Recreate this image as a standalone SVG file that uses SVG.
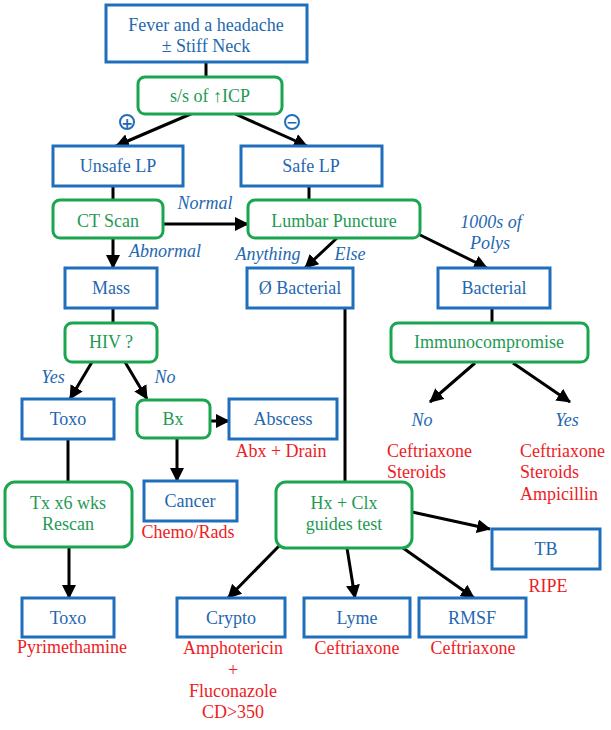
<svg xmlns="http://www.w3.org/2000/svg" width="611" height="730" viewBox="0 0 611 730" font-family="Liberation Serif, Times New Roman, serif">
<style>
.b{fill:#fff;stroke:#1f6fbd;stroke-width:3}
.g{fill:#fff;stroke:#1aa64f;stroke-width:3}
text{font-size:18px;text-anchor:middle}
.tb{fill:#1f68b0}
.tg{fill:#1f9a55}
.tr{fill:#ee1c25}
.ti{fill:#1f68b0;font-style:italic}
.c line{stroke:#000;stroke-width:3}
.a{marker-end:url(#ah)}
</style>
<defs>
<marker id="ah" markerUnits="userSpaceOnUse" markerWidth="14" markerHeight="14" refX="13" refY="7" orient="auto">
<path d="M0,0 L14,7 L0,14 z" fill="#000"/>
</marker>
</defs>
<g class="c" id="connectors">
<line x1="206" y1="62" x2="206" y2="77"/>
<line class="a" x1="193" y1="113" x2="116" y2="146"/>
<line class="a" x1="233" y1="113" x2="307" y2="146"/>
<line x1="113" y1="186" x2="113" y2="200"/>
<line x1="309" y1="186" x2="309" y2="200"/>
<line class="a" x1="163" y1="224" x2="248" y2="224"/>
<line class="a" x1="113" y1="238" x2="113" y2="268"/>
<line class="a" x1="337" y1="238" x2="305" y2="268"/>
<line class="a" x1="412" y1="231" x2="487" y2="268"/>
<line x1="113" y1="308" x2="113" y2="323"/>
<line x1="345" y1="308" x2="345" y2="482"/>
<line x1="492" y1="308" x2="492" y2="323"/>
<line class="a" x1="92" y1="362" x2="70" y2="399"/>
<line class="a" x1="125" y1="362" x2="147" y2="399"/>
<line class="a" x1="475" y1="363" x2="430" y2="402"/>
<line class="a" x1="513" y1="363" x2="570" y2="402"/>
<line class="a" x1="210" y1="421" x2="229" y2="421"/>
<line class="a" x1="177" y1="438" x2="177" y2="481"/>
<line x1="68" y1="439" x2="68" y2="482"/>
<line class="a" x1="69" y1="547" x2="69" y2="598"/>
<line class="a" x1="279" y1="546" x2="228" y2="598"/>
<line class="a" x1="347" y1="548" x2="355" y2="598"/>
<line class="a" x1="403" y1="548" x2="474" y2="598"/>
<line class="a" x1="412" y1="512" x2="490" y2="529"/>
</g>
<g id="labels">
<circle cx="127" cy="122" r="7" fill="#fff" stroke="#1f6fbd" stroke-width="2"/>
<text x="127" y="127.5" class="tb" font-family="DejaVu Sans, sans-serif" style="font-size:14px;font-weight:bold">+</text>
<circle cx="292" cy="122" r="7" fill="#fff" stroke="#1f6fbd" stroke-width="2"/>
<text x="292" y="127" class="tb" font-family="DejaVu Sans, sans-serif" style="font-size:14px;font-weight:bold">−</text>
<text x="205" y="209" class="ti">Normal</text>
<text x="165" y="257" class="ti">Abnormal</text>
<text x="268" y="260" class="ti">Anything</text>
<text x="350" y="260" class="ti">Else</text>
<text x="491" y="228" class="ti">1000s of</text>
<text x="490" y="249" class="ti">Polys</text>
<text x="53" y="383" class="ti">Yes</text>
<text x="165" y="383" class="ti">No</text>
<text x="422" y="426" class="ti">No</text>
<text x="567" y="426" class="ti">Yes</text>
</g>
<g id="n-fever"><rect class="b" x="106" y="5" width="201" height="57"/><text x="206" y="31" class="tb">Fever and a headache</text><text x="206" y="52" class="tb">± Stiff Neck</text></g>
<g id="n-icp"><rect class="g" x="138" y="77" width="144" height="37" rx="7"/><text x="210" y="102" class="tg">s/s of ↑ICP</text></g>
<g id="n-unsafe"><rect class="b" x="53" y="146" width="130" height="40"/><text x="118" y="172" class="tb">Unsafe LP</text></g>
<g id="n-safe"><rect class="b" x="241" y="146" width="141" height="40"/><text x="311" y="172" class="tb">Safe LP</text></g>
<g id="n-ct"><rect class="g" x="53" y="200" width="110" height="38" rx="7"/><text x="108" y="227" class="tg">CT Scan</text></g>
<g id="n-lp"><rect class="g" x="248" y="200" width="172" height="38" rx="7"/><text x="334" y="227" class="tg">Lumbar Puncture</text></g>
<g id="n-mass"><rect class="b" x="65" y="268" width="92" height="40"/><text x="111" y="294" class="tb">Mass</text></g>
<g id="n-nobact"><rect class="b" x="247" y="268" width="106" height="40"/><text x="300" y="294" class="tb">Ø Bacterial</text></g>
<g id="n-bact"><rect class="b" x="438" y="268" width="112" height="40"/><text x="494" y="294" class="tb">Bacterial</text></g>
<g id="n-hiv"><rect class="g" x="65" y="323" width="92" height="39" rx="7"/><text x="111" y="348" class="tg">HIV ?</text></g>
<g id="n-immuno"><rect class="g" x="391" y="323" width="197" height="39" rx="7"/><text x="489" y="348" class="tg">Immunocompromise</text></g>
<g id="n-toxo1"><rect class="b" x="22" y="399" width="92" height="40"/><text x="68" y="425" class="tb">Toxo</text></g>
<g id="n-bx"><rect class="g" x="137" y="400" width="73" height="38" rx="7"/><text x="173" y="425" class="tg">Bx</text></g>
<g id="n-abscess"><rect class="b" x="229" y="399" width="108" height="40"/><text x="283" y="425" class="tb">Abscess</text><text x="281" y="457" class="tr">Abx + Drain</text></g>
<g id="n-no-tx"><text x="387" y="457" class="tr" style="text-anchor:start">Ceftriaxone</text><text x="387" y="478" class="tr" style="text-anchor:start">Steroids</text></g>
<g id="n-yes-tx"><text x="520" y="457" class="tr" style="text-anchor:start">Ceftriaxone</text><text x="520" y="478" class="tr" style="text-anchor:start">Steroids</text><text x="520" y="500" class="tr" style="text-anchor:start">Ampicillin</text></g>
<g id="n-cancer"><rect class="b" x="144" y="481" width="93" height="40"/><text x="190" y="507" class="tb">Cancer</text><text x="188" y="538" class="tr">Chemo/Rads</text></g>
<g id="n-tx"><rect class="g" x="5" y="482" width="127" height="65" rx="10"/><text x="68" y="509" class="tg">Tx x6 wks</text><text x="68" y="530" class="tg">Rescan</text></g>
<g id="n-hx"><rect class="g" x="276" y="482" width="136" height="66" rx="10"/><text x="344" y="509" class="tg">Hx + Clx</text><text x="344" y="530" class="tg">guides test</text></g>
<g id="n-tb"><rect class="b" x="492" y="529" width="108" height="40"/><text x="546" y="555" class="tb">TB</text><text x="548" y="592" class="tr">RIPE</text></g>
<g id="n-toxo2"><rect class="b" x="22" y="598" width="92" height="39"/><text x="68" y="624" class="tb">Toxo</text><text x="72" y="653" class="tr">Pyrimethamine</text></g>
<g id="n-crypto"><rect class="b" x="177" y="598" width="108" height="39"/><text x="231" y="624" class="tb">Crypto</text><text x="233" y="654" class="tr">Amphotericin</text><text x="233" y="676" class="tr">+</text><text x="233" y="697" class="tr">Fluconazole</text><text x="233" y="718" class="tr">CD&gt;350</text></g>
<g id="n-lyme"><rect class="b" x="304" y="598" width="106" height="39"/><text x="357" y="624" class="tb">Lyme</text><text x="357" y="654" class="tr">Ceftriaxone</text></g>
<g id="n-rmsf"><rect class="b" x="419" y="598" width="107" height="39"/><text x="472" y="624" class="tb">RMSF</text><text x="473" y="654" class="tr">Ceftriaxone</text></g>
</svg>
